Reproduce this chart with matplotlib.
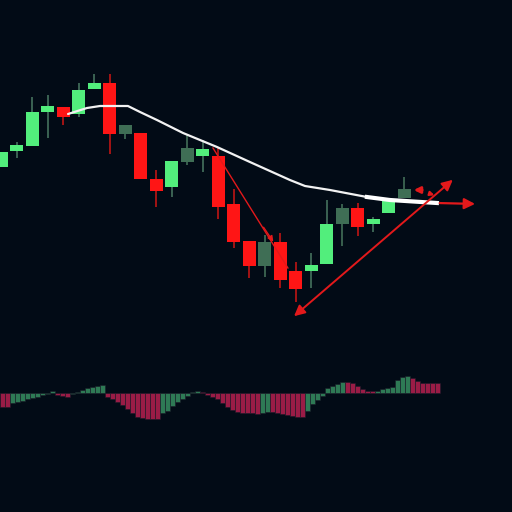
import numpy as np
import matplotlib
matplotlib.use("Agg")
import matplotlib.pyplot as plt

# ---------------- data ----------------
opens  = [108.25, 112.25, 113.5, 122.0, 123.25, 121.5, 127.75, 129.25, 116.5, 116.75,
          105.25, 103.25, 109.5, 111.0, 111.0, 99.0, 89.75, 83.5, 89.5, 82.25,
          82.25, 84.0, 94.0, 98.0, 94.0, 96.75, 100.5]
highs  = [112.0, 114.5, 125.75, 126.25, 123.25, 129.25, 131.5, 131.5, 118.75, 116.75,
          107.5, 109.75, 116.25, 115.0, 113.0, 102.75, 89.75, 91.25, 91.75, 84.5,
          86.75, 100.0, 99.0, 99.25, 95.75, 100.25, 105.75]
lows   = [108.25, 110.5, 113.5, 115.5, 118.75, 120.75, 127.75, 111.5, 115.25, 105.25,
          98.25, 100.75, 108.75, 107.0, 95.25, 88.0, 80.5, 80.75, 78.0, 74.5,
          78.0, 84.0, 88.5, 91.0, 92.0, 96.75, 100.5]
closes = [112.0, 113.75, 122.0, 123.5, 120.75, 127.5, 129.25, 116.5, 118.75, 105.25,
          102.25, 109.75, 113.0, 112.75, 98.25, 89.5, 83.5, 89.5, 80.0, 77.75,
          83.75, 94.0, 98.0, 93.25, 95.25, 100.25, 102.75]
muted_candles = [8, 12, 17, 22, 26]   # indices drawn in muted green

ma_x = [4.32, 5.54, 6.38, 8.18, 8.96, 10.05, 11.73, 13.92, 16.04, 18.62, 19.59,
        21.2, 23.58, 25.06, 28.09]
ma_y = [121.5, 123.0, 123.5, 123.5, 122.0, 120.0, 116.75, 113.25, 109.5, 105.0,
        103.5, 102.5, 100.75, 100.0, 99.25]

hist = [-1.4, -1.45, -1.0, -0.9, -0.8, -0.6, -0.5, -0.4, -0.25, -0.15,
        0.15, -0.2, -0.35, -0.45, -0.1, 0.1, 0.3, 0.5, 0.6, 0.7,
        0.75, -0.4, -0.6, -0.9, -1.2, -1.6, -2.0, -2.4, -2.5, -2.6,
        -2.6, -2.65, -2.0, -1.8, -1.3, -0.9, -0.6, -0.3, 0.1, 0.15,
        0.1, -0.2, -0.4, -0.6, -1.0, -1.4, -1.7, -1.9, -2.0, -2.02,
        -2.05, -2.1, -2.0, -1.95, -1.97, -2.0, -2.1, -2.2, -2.3, -2.4,
        -2.42, -1.8, -1.1, -0.7, -0.3, 0.5, 0.7, 0.9, 1.1, 1.08,
        1.0, 0.7, 0.4, 0.2, 0.12, 0.2, 0.4, 0.5, 0.6, 1.3,
        1.6, 1.7, 1.5, 1.2, 1.0, 0.98, 0.97, 0.96]

# annotation endpoints (candle index, price)
trend_line = [(13.66, 113.0), (18.49, 83.0)]
trend_head = [(16.82, 93.75), (17.65, 89.0)]
double_arrow = [(18.75, 70.5), (29.25, 105.5)]
horiz_arrow = [(28.09, 99.25), (30.73, 99.0)]
small_arrow1 = [(27.32, 102.5), (26.42, 102.5)]
small_arrow2 = [(27.5, 101.75), (28.1, 101.0)]

# ---------------- style ----------------
BG = "#020b16"
GREEN = "#52ee7c"
RED = "#ff1515"
MUTED = "#3f6e55"
HRED = "#9a1c46"
HGREEN = "#2e7a55"
ARROW = "#e3191b"

fig = plt.figure(figsize=(5.12, 5.12), dpi=100, facecolor=BG)

# histogram axes (behind)
axh = fig.add_axes([0, 0, 1, 1])
axh.set_facecolor(BG)
h = np.array(hist)
xs = np.arange(len(h))
prev = np.concatenate([[h[0] + 1], h[:-1]])
hcols = [HGREEN if v > p else HRED for v, p in zip(h, prev)]
axh.bar(xs, h, width=1.0, color=hcols, edgecolor="#1a1a28", linewidth=0.4)
axh.set_xlim(-0.5, 101.9)
axh.set_ylim(-11.95, 39.25)
axh.axis("off")

# main candle axes
ax = fig.add_axes([0, 0, 1, 1])
ax.set_facecolor("none")
n = len(opens)
x = np.arange(n)
o = np.array(opens); c = np.array(closes)
hi = np.array(highs); lo = np.array(lows)
body_cols = []
wick_cols = []
for i in range(n):
    if i in muted_candles:
        body_cols.append(MUTED); wick_cols.append("#3d6652")
    elif c[i] >= o[i]:
        body_cols.append(GREEN); wick_cols.append("#3f6a58")
    else:
        body_cols.append(RED); wick_cols.append("#b01414")
ax.vlines(x, lo, hi, colors=wick_cols, linewidth=1.3, zorder=2)
ax.bar(x, c - o, bottom=o, width=0.84, color=body_cols, zorder=3)

ax.plot(ma_x, ma_y, color="#f2f2f2", linewidth=1.6, zorder=4, solid_capstyle="round")
ax.plot(ma_x[-3:], ma_y[-3:], color="#ffffff", linewidth=3.0, zorder=4)

# annotations
(x0, y0), (x1, y1) = trend_line
ax.plot([x0, x1], [y0, y1], color=ARROW, linewidth=1.0, zorder=5)
ax.annotate("", xy=trend_head[1], xytext=trend_head[0],
            arrowprops=dict(arrowstyle="-|>", color=ARROW, lw=1.0,
                            mutation_scale=8), zorder=5)
ax.annotate("", xy=double_arrow[1], xytext=double_arrow[0],
            arrowprops=dict(arrowstyle="<|-|>", color=ARROW, lw=1.4,
                            mutation_scale=16), zorder=5)
ax.annotate("", xy=horiz_arrow[1], xytext=horiz_arrow[0],
            arrowprops=dict(arrowstyle="-|>", color=ARROW, lw=1.6,
                            mutation_scale=16), zorder=5)
ax.annotate("", xy=small_arrow1[1], xytext=small_arrow1[0],
            arrowprops=dict(arrowstyle="-|>", color=ARROW, lw=2.0,
                            mutation_scale=9), zorder=5)
ax.annotate("", xy=small_arrow2[1], xytext=small_arrow2[0],
            arrowprops=dict(arrowstyle="-|>", color=ARROW, lw=1.5,
                            mutation_scale=6), zorder=5)

ax.set_xlim(-0.064, 32.93)
ax.set_ylim(22, 150)
ax.axis("off")

fig.savefig("out.png", dpi=100, facecolor=BG)
